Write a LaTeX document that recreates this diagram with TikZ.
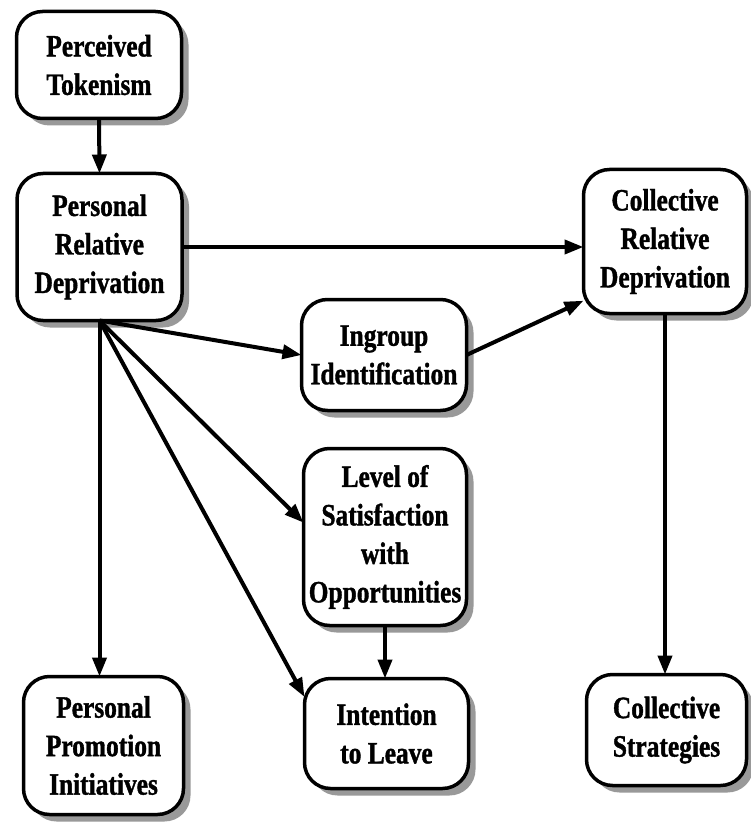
\documentclass[tikz,border=0pt]{standalone}
\usepackage{fontspec}
\setmainfont[FakeStretch=0.82,FakeBold=1.2]{Liberation Serif}
\usetikzlibrary{arrows.meta,backgrounds}
\begin{document}
\begin{tikzpicture}[x=1pt,y=-1pt,
  box/.style={draw,line width=3.5pt,rounded corners=26pt,fill=white,align=center,
    font=\bfseries\fontsize{31}{38.5}\selectfont,inner sep=0pt,outer sep=0pt},
  boxshadow/.style={fill=black!40,rounded corners=26pt},
  arr/.style={line width=4pt,-{Triangle[length=19pt,width=14pt]}}]
\useasboundingbox (0,0) rectangle (751,829);

\node[box,minimum width=165pt,minimum height=107pt] (pt)  at (99,65)    {Perceived\\Tokenism};
\node[box,minimum width=165pt,minimum height=147pt] (prd) at (99.5,247) {Personal\\Relative\\Deprivation};
\node[box,minimum width=163pt,minimum height=144pt] (crd) at (665,241.5) {Collective\\Relative\\Deprivation};
\node[box,minimum width=165pt,minimum height=111pt] (ig)  at (384,355)  {Ingroup\\Identification};
\node[box,minimum width=163pt,minimum height=177pt] (ls)  at (385,537)  {Level of\\Satisfaction\\with\\Opportunities};
\node[box,minimum width=160pt,minimum height=138pt] (ppi) at (103.5,745.5) {Personal\\Promotion\\Initiatives};
\node[box,minimum width=164pt,minimum height=110pt] (il)  at (386.5,733.5) {Intention\\to Leave};
\node[box,minimum width=160pt,minimum height=111pt] (cs)  at (666.5,730) {Collective\\Strategies};

\begin{pgfonlayer}{background}
\fill[white] (0,0) rectangle (751,829);
\foreach \n in {pt,prd,crd,ig,ls,ppi,il,cs}
  \fill[boxshadow] ([shift={(7,7)}]\n.north west) rectangle ([shift={(7,7)}]\n.south east);
\end{pgfonlayer}

\draw[arr] (pt.south) -- (prd.north);
\draw[arr] (prd.east) -- (crd.west |- prd.east);
\draw[arr] (prd.south) -- (prd.south |- ppi.north);
\draw[arr] (prd.south) -- (ig.west);
\draw[arr] (prd.south) -- (ls.170);
\draw[arr] (prd.south) -- (il.156);
\draw[arr] (ig.east) -- (crd.216);
\draw[arr] (ls.south) -- (ls.south |- il.north);
\draw[arr] (crd.south) -- (crd.south |- cs.north);
\end{tikzpicture}
\end{document}
